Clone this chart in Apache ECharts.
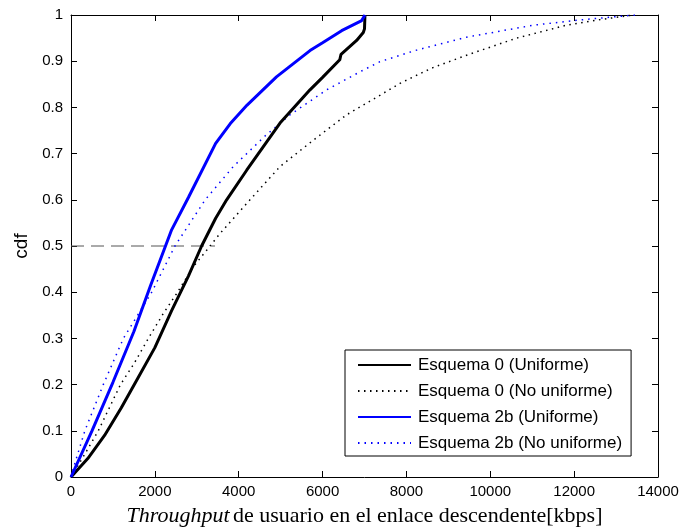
<!DOCTYPE html>
<html>
<head>
<meta charset="utf-8">
<script src="https://cdn.jsdelivr.net/npm/echarts@6/dist/echarts.min.js"></script>
<style>
  html, body { margin: 0; padding: 0; background: #fff; }
  #chart { width: 685px; height: 532px; }
</style>
</head>
<body>
<div id="chart"></div>
<script>
// Empirical CDFs of user downlink throughput, [kbps, cdf] pairs
const esquema0Uniforme = [
  [0, 0], [400, 0.04], [800, 0.09], [1200, 0.15], [1600, 0.215], [2000, 0.28],
  [2400, 0.36], [2800, 0.435], [3115, 0.5], [3450, 0.56], [3712, 0.6],
  [4190, 0.664], [4985, 0.766], [5700, 0.838], [6000, 0.865], [6410, 0.903],
  [6440, 0.915], [6812, 0.945], [6971, 0.962], [7000, 0.97], [7011, 1.0]
];
const esquema0NoUniforme = [
  [0, 0], [300, 0.045], [651, 0.1], [1180, 0.2], [1500, 0.245], [1845, 0.3],
  [2202, 0.354], [2520, 0.397], [2917, 0.455], [3236, 0.491], [3554, 0.527],
  [4190, 0.592], [4985, 0.672], [5779, 0.729], [6574, 0.784], [7290, 0.822],
  [7846, 0.852], [8600, 0.885], [9435, 0.913], [10628, 0.95], [11820, 0.978],
  [12616, 0.99], [13400, 1.0]
];
const esquema2bUniforme = [
  [0, 0], [500, 0.1], [1000, 0.205], [1500, 0.315], [1900, 0.415], [2400, 0.535],
  [2800, 0.605], [3450, 0.722], [3800, 0.765], [4200, 0.805], [4900, 0.866],
  [5700, 0.923], [6000, 0.94], [6455, 0.966], [6933, 0.988], [7011, 1.0]
];
const esquema2bNoUniforme = [
  [0, 0], [60, 0.02], [330, 0.1], [770, 0.2], [1250, 0.3], [1925, 0.4],
  [2480, 0.5], [3200, 0.6], [3871, 0.672], [4627, 0.738], [5223, 0.784],
  [6098, 0.838], [6892, 0.877], [7369, 0.899], [8243, 0.924], [9435, 0.952],
  [11025, 0.978], [12218, 0.99], [13451, 1.0]
];
// Median guide: dashed from the y axis to the intersection
const medianGuide = [[0, 0.5], [3434, 0.5]];

const seriesNames = [
  'Esquema 0 (Uniforme)',
  'Esquema 0 (No uniforme)',
  'Esquema 2b (Uniforme)',
  'Esquema 2b (No uniforme)'
];

const FONT = "'Liberation Sans', Arial, Helvetica, sans-serif";
const SERIF = "'Liberation Serif', 'DejaVu Serif', 'Times New Roman', serif";

const chart = echarts.init(document.getElementById('chart'), null, { renderer: 'canvas' });

function tickAxis(extra) {
  return Object.assign({
    type: 'value',
    axisLine: { show: true, onZero: false, lineStyle: { color: '#000', width: 1 } },
    axisTick: { show: true, inside: true, length: 6, lineStyle: { color: '#000', width: 1 } },
    splitLine: { show: false }
  }, extra);
}

chart.setOption({
  animation: false,
  backgroundColor: '#fff',
  grid: { left: 71, right: 27, top: 15, bottom: 55, show: false },
  xAxis: [
    tickAxis({
      min: 0, max: 14000, interval: 2000, position: 'bottom',
      axisLabel: { color: '#000', fontSize: 15, fontFamily: FONT, margin: 7, formatter: v => String(v) },
      name: '{i|Throughput} {n|de usuario en el enlace descendente[kbps]}',
      nameLocation: 'middle',
      nameGap: 28,
      nameTextStyle: {
        rich: {
          i: { fontFamily: SERIF, fontStyle: 'italic', fontSize: 22, color: '#000' },
          n: { fontFamily: SERIF, fontSize: 22, color: '#000' }
        }
      }
    }),
    tickAxis({
      min: 0, max: 14000, interval: 2000, position: 'top',
      axisLabel: { show: false }
    })
  ],
  yAxis: [
    tickAxis({
      min: 0, max: 1, interval: 0.1, position: 'left',
      axisLabel: {
        color: '#000', fontSize: 15, fontFamily: FONT, margin: 8,
        formatter: v => String(Math.round(v * 10) / 10)
      },
      name: 'cdf',
      nameLocation: 'middle',
      nameGap: 32,
      nameRotate: 90,
      nameTextStyle: { color: '#000', fontSize: 19, fontFamily: FONT }
    }),
    tickAxis({
      min: 0, max: 1, interval: 0.1, position: 'right',
      axisLabel: { show: false }
    })
  ],
  legend: {
    data: seriesNames,
    orient: 'vertical',
    left: 345,
    top: 350,
    padding: [6, 9, 4, 12],
    itemGap: 8,
    itemWidth: 53,
    itemHeight: 18,
    backgroundColor: '#fff',
    borderColor: '#000',
    borderWidth: 1,
    borderRadius: 0,
    itemStyle: { opacity: 0 },
    textStyle: { color: '#000', fontSize: 17, fontFamily: FONT, padding: [0, 0, 0, 2], lineHeight: 18 }
  },
  series: [
    {
      name: 'median', type: 'line', data: medianGuide, symbol: 'none', silent: true,
      lineStyle: { color: '#555', width: 1, type: [13, 7] }, z: 1
    },
    {
      name: seriesNames[1], type: 'line', data: esquema0NoUniforme, symbol: 'none',
      lineStyle: { color: '#000', width: 1.5, type: [1.5, 4.5] }, itemStyle: { color: '#000' }, z: 2
    },
    {
      name: seriesNames[3], type: 'line', data: esquema2bNoUniforme, symbol: 'none',
      lineStyle: { color: '#0000ff', width: 1.5, type: [1.5, 5] }, itemStyle: { color: '#0000ff' }, z: 2
    },
    {
      name: seriesNames[0], type: 'line', data: esquema0Uniforme, symbol: 'none',
      lineStyle: { color: '#000', width: 3 }, itemStyle: { color: '#000' }, z: 3
    },
    {
      name: seriesNames[2], type: 'line', data: esquema2bUniforme, symbol: 'none',
      lineStyle: { color: '#0000ff', width: 3 }, itemStyle: { color: '#0000ff' }, z: 3
    }
  ]
});
</script>
</body>
</html>
